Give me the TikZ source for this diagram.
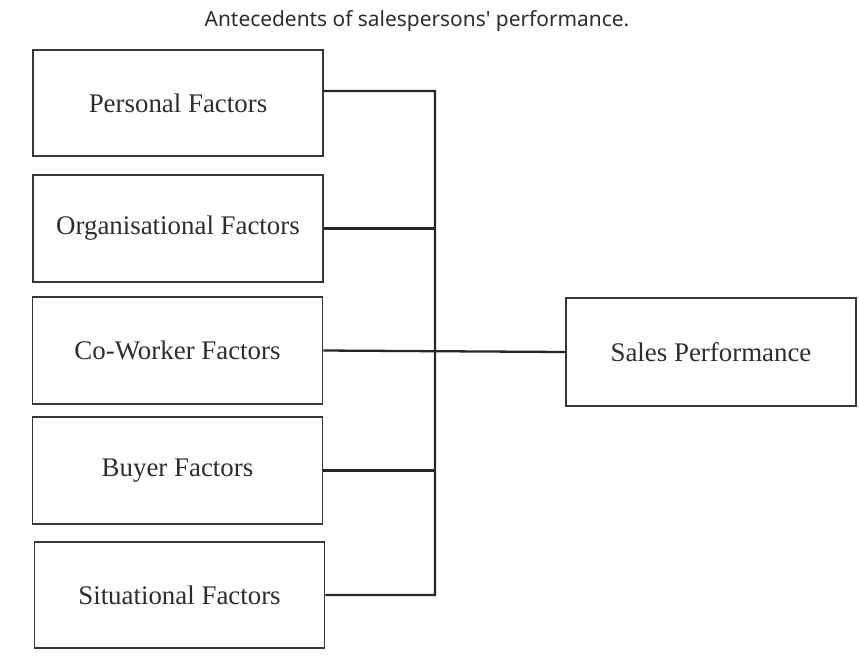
\documentclass[tikz,border=0pt]{standalone}
\usepackage{fontspec}
\setmainfont{Liberation Serif}
\newfontfamily\titlefont{Noto Sans}
\definecolor{boxline}{RGB}{55,55,55}
\definecolor{boxtext}{RGB}{45,45,45}

\begin{document}
\begin{tikzpicture}[x=0.02cm,y=-0.02cm,
  factor/.style={draw=boxline,line width=1.1pt,minimum width=5.8cm,minimum height=2.13cm,
    text=boxtext,font=\fontsize{15.3}{18}\selectfont},
  link/.style={draw=black!85,line width=1.3pt}]
\useasboundingbox (0,0) rectangle (859,657);
\node[text=boxtext,font=\titlefont\fontsize{11.9}{14}\selectfont] (title) at (417,21) {Antecedents of salespersons' performance.};
\node[factor] (pers) at (178,103) {Personal Factors};
\node[factor] (org) at (178,228.5) {Organisational Factors};
\node[factor] (cowork) at (177.5,350.5) {Co-Worker Factors};
\node[factor] (buyer) at (177.5,470.5) {Buyer Factors};
\node[factor] (sit) at (179.5,595) {Situational Factors};
\node[factor,minimum height=2.16cm] (sales) at (711,352) {Sales Performance};
\coordinate (bustop) at (435,91);
\draw[link] ([yshift=0.24cm]pers.east) -- (bustop) -- (bustop |- sit.east) -- (sit.east);
\draw[link] (org.east) -- (org.east -| bustop);
\draw[link] (buyer.east) -- (buyer.east -| bustop);
\draw[link] (cowork.east) -- (sales.west);
\end{tikzpicture}
\end{document}
